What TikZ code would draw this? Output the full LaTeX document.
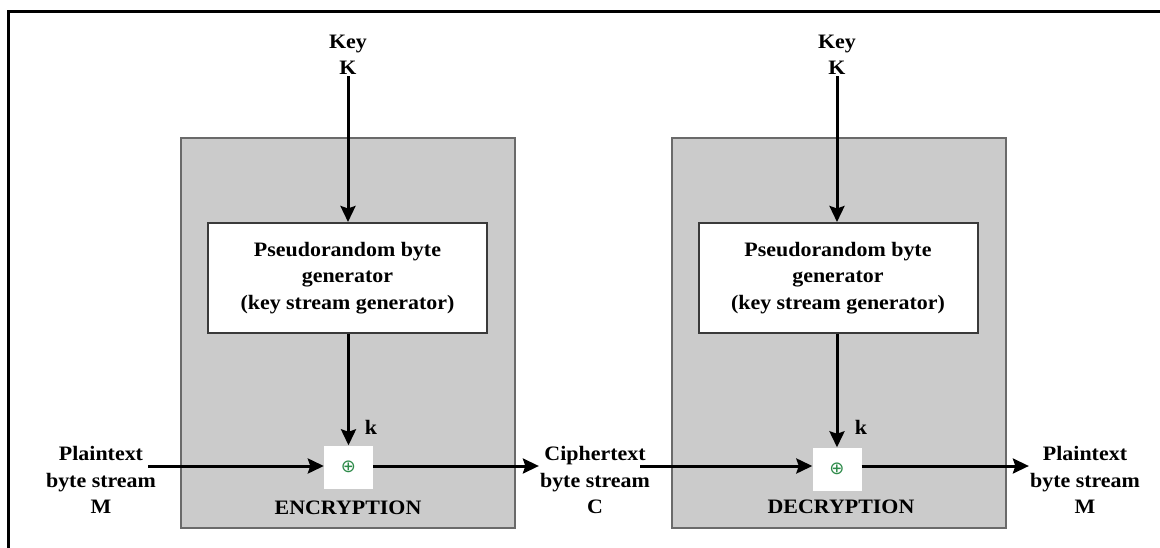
\documentclass[tikz,border=0pt]{standalone}
\usepackage{fontspec}
\setmainfont{Liberation Serif}[FakeStretch=1.07]
\newfontfamily\symfont{DejaVu Sans}
\usetikzlibrary{arrows.meta}
\definecolor{panelfill}{HTML}{CBCBCB}
\definecolor{paneledge}{HTML}{6A6A6A}
\definecolor{genedge}{HTML}{3A3A3A}
\definecolor{xorgreen}{HTML}{2E8B4A}
\tikzset{
  x=1pt, y=1pt,
  every node/.style={font=\fontsize{20.5}{26.5}\selectfont\bfseries, align=center},
  panel/.style={draw=paneledge, fill=panelfill, line width=2pt,
    minimum width=334pt, minimum height=390pt, inner sep=0pt},
  genbox/.style={draw=genedge, fill=white, line width=2pt,
    minimum width=279pt, minimum height=110pt, inner sep=0pt},
  xorbox/.style={fill=white, minimum width=49pt, minimum height=43pt,
    inner sep=0pt, text=xorgreen, font=\symfont\fontsize{18}{18}\selectfont},
  lbl/.style={inner sep=1pt},
  flow/.style={line width=3pt, -{Stealth[length=16pt, width=15pt, inset=2.5pt]}},
}
\begin{document}
\begin{tikzpicture}
\useasboundingbox (0,0) rectangle (1160,-548);
% frame
\draw[line width=2.5pt] (8.5,-548) |- (1160,-11.5);

% encryption side
\node[panel]  (encpanel) at (348,-333) {};
\node[genbox] (encgen)   at (347.5,-278) {Pseudorandom byte\\generator\\(key stream generator)};
\node[lbl]    (enckey)   at (348,-55)  {Key\\K};
\node[xorbox] (encxor)   at (348.5,-467) {\raisebox{-2pt}{⊕}};
\node[lbl]    (enck)     at (371,-427) {k};
\node[lbl]    (enclabel) at (348,-508) {ENCRYPTION};

% decryption side
\node[panel]  (decpanel) at (838.5,-333) {};
\node[genbox] (decgen)   at (838,-278) {Pseudorandom byte\\generator\\(key stream generator)};
\node[lbl]    (deckey)   at (837,-55)  {Key\\K};
\node[xorbox] (decxor)   at (837,-469) {\raisebox{-2pt}{⊕}};
\node[lbl]    (deck)     at (861,-427) {k};
\node[lbl]    (declabel) at (841,-507) {DECRYPTION};

% stream labels
\node[lbl] (ptin)  at (101,-480)  {Plaintext\\byte stream\\M};
\node[lbl] (ct)    at (595,-480)  {Ciphertext\\byte stream\\C};
\node[lbl] (ptout) at (1085,-480) {Plaintext\\byte stream\\M};

% key paths
\draw[flow] (enckey.south) -- (enckey.south |- encgen.north);
\draw[flow] (encgen.south -| encxor.north) -- (encxor.north);
\draw[flow] (deckey.south) -- (deckey.south |- decgen.north);
\draw[flow] (decgen.south -| decxor.north) -- (decxor.north);

% data streams
\draw[flow, shorten <=-9pt] (ptin.east |- 0,-466) -- (encxor.west |- 0,-466);
\draw[flow] (encxor.east |- 0,-466) -- (ct.west |- 0,-466);
\draw[flow, shorten <=-11pt] (ct.east |- 0,-466) -- (decxor.west |- 0,-466);
\draw[flow] (decxor.east |- 0,-466) -- (ptout.west |- 0,-466);
\end{tikzpicture}
\end{document}
